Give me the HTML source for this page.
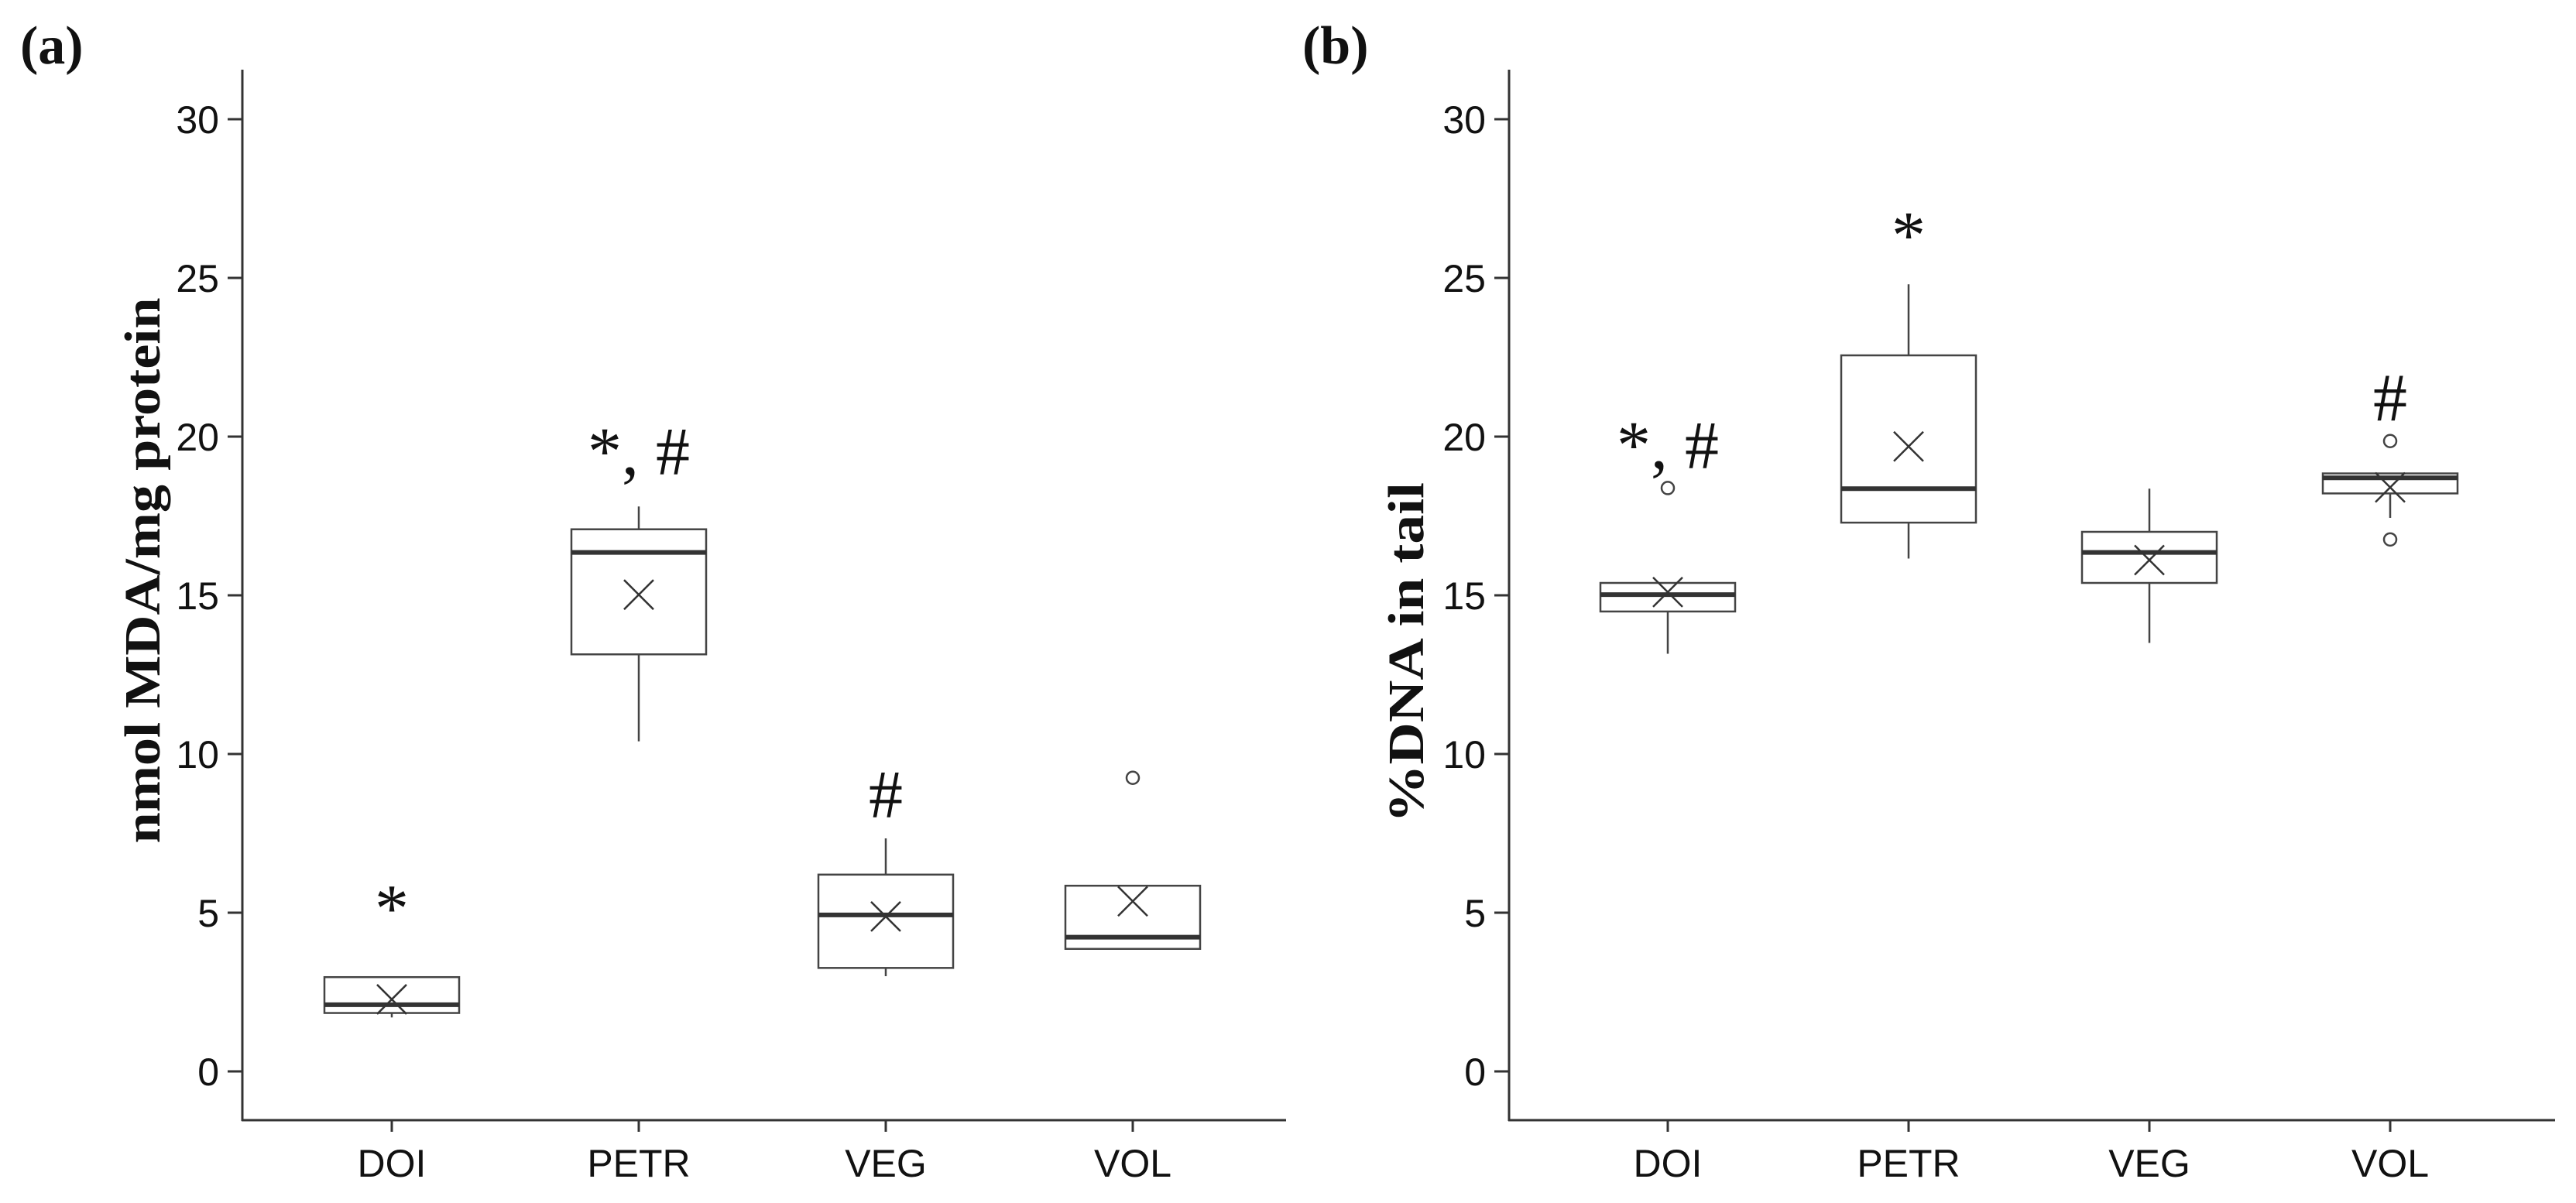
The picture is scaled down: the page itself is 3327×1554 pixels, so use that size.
<!DOCTYPE html>
<html><head><meta charset="utf-8"><style>
html,body{margin:0;padding:0;background:#fff;}
svg{display:block;}
</style></head><body>
<svg id="chart" width="3327" height="1554" viewBox="0 0 3327 1554" xmlns="http://www.w3.org/2000/svg"></svg>
<script>
const categories = ["DOI","PETR","VEG","VOL"];
const yTicks = [0,5,10,15,20,25,30];
// panel a: nmol MDA/mg protein
const aWhiskLow = [1.7,10.4,3.0,3.86];
const aQ1 = [1.84,13.14,3.26,3.86];
const aMedian = [2.1,16.35,4.93,4.23];
const aQ3 = [2.97,17.08,6.2,5.85];
const aWhiskHigh = [2.97,17.8,7.34,5.85];
const aMean = [2.27,15.02,4.88,5.36];
const aOutliers = [[],[],[],[9.25]];
const aSig = ["*","*, #","#",""];
const aSigVal = [5.1,19.5,8.7,0];
// panel b: %DNA in tail
const bWhiskLow = [13.16,16.16,13.5,17.44];
const bQ1 = [14.49,17.29,15.39,18.21];
const bMedian = [15.02,18.36,16.35,18.7];
const bQ3 = [15.39,22.56,17.0,18.84];
const bWhiskHigh = [15.39,24.8,18.36,18.84];
const bMean = [15.1,19.69,16.11,18.4];
const bOutliers = [[18.38],[],[],[19.86,16.76]];
const bSig = ["*, #","*","","#"];
const bSigVal = [19.7,26.3,0,21.2];

const NS="http://www.w3.org/2000/svg";
const svg=document.getElementById('chart');
function mk(tag,attrs,parent){const e=document.createElementNS(NS,tag);for(const k in attrs)e.setAttribute(k,attrs[k]);(parent||svg).appendChild(e);return e;}
const Y0=1384, PXU=41;
function yS(v){return Y0-v*PXU;}

function panel(o){
  const g=mk('g',{});
  
  
  const xS=i=>o.x0+o.off+i*o.sp;
  const lbl=mk('text',{x:o.lx,y:82,'font-family':'"Liberation Serif",serif','font-weight':'bold','font-size':70,fill:'#111'},g);
  lbl.textContent=o.label;
  
  
  const ya=mk('line',{x1:o.x0,y1:90,x2:o.x0,y2:1448,stroke:'#333','stroke-width':3},g);
  
  
  const xa=mk('line',{x1:o.x0-1,y1:1447,x2:o.xEnd,y2:1447,stroke:'#333','stroke-width':3},g);
  
  
  yTicks.forEach(t=>{
    const tk=mk('line',{x1:o.x0-19,y1:yS(t),x2:o.x0,y2:yS(t),stroke:'#333','stroke-width':3},g);
    
    
    const tl=mk('text',{x:o.x0-30,y:yS(t)+18,'text-anchor':'end','font-family':'"Liberation Sans",sans-serif','font-size':50,fill:'#111'},g);
    tl.textContent=t;
    
    
  });
  const ttl=mk('text',{x:0,y:0,transform:`translate(${o.tx},${o.ty}) rotate(-90)`,'text-anchor':'middle','font-family':'"Liberation Serif",serif','font-weight':'bold','font-size':66,fill:'#111',textLength:o.tl,lengthAdjust:'spacingAndGlyphs'},g);
  ttl.textContent=o.title;
  
  
  categories.forEach((c,i)=>{
    const x=xS(i), hw=87;
    const tk=mk('line',{x1:x,y1:1447,x2:x,y2:1462,stroke:'#333','stroke-width':3},g);
    
    
    const cl=mk('text',{x:x,y:1520,'text-anchor':'middle','font-family':'"Liberation Sans",sans-serif','font-size':50,fill:'#111'},g);
    cl.textContent=c;
    
    
    const w=mk('line',{x1:x,y1:yS(o.wl[i]),x2:x,y2:yS(o.wh[i]),stroke:'#444','stroke-width':2.5},g);
    
    
    const b=mk('rect',{x:x-hw,y:yS(o.q3[i]),width:2*hw,height:yS(o.q1[i])-yS(o.q3[i]),fill:'#fff',stroke:'#444','stroke-width':2.5},g);
    
    
    const m=mk('line',{x1:x-hw,y1:yS(o.med[i]),x2:x+hw,y2:yS(o.med[i]),stroke:'#333','stroke-width':6},g);
    
    
    const my=yS(o.mean[i]), s=19;
    const mg=mk('path',{d:`M${x-s},${my-s}L${x+s},${my+s}M${x-s},${my+s}L${x+s},${my-s}`,stroke:'#333','stroke-width':2.5,fill:'none'},g);
    
    
    o.out[i].forEach(v=>{
      const ci=mk('circle',{cx:x,cy:yS(v),r:8,fill:'#fff',stroke:'#444','stroke-width':2.5},g);
      
      
    });
    if(o.sig[i]){
      const st=mk('text',{x:x,y:yS(o.sigv[i])+28,'text-anchor':'middle','font-family':'"Liberation Serif",serif','font-size':88,fill:'#111'},g);
      st.textContent=o.sig[i];
      
      
    }
  });
}
panel({name:'panel-a',label:'(a)',x0:313,off:193,sp:319,xEnd:1661,lx:26,title:'nmol MDA/mg protein',tx:206,ty:737,tl:705,
  wl:aWhiskLow,q1:aQ1,med:aMedian,q3:aQ3,wh:aWhiskHigh,mean:aMean,out:aOutliers,sig:aSig,sigv:aSigVal});
panel({name:'panel-b',label:'(b)',x0:1949,off:205,sp:311,xEnd:3300,lx:1682,title:'%DNA in tail',tx:1838,ty:843,tl:440,
  wl:bWhiskLow,q1:bQ1,med:bMedian,q3:bQ3,wh:bWhiskHigh,mean:bMean,out:bOutliers,sig:bSig,sigv:bSigVal});
</script>
</body></html>
